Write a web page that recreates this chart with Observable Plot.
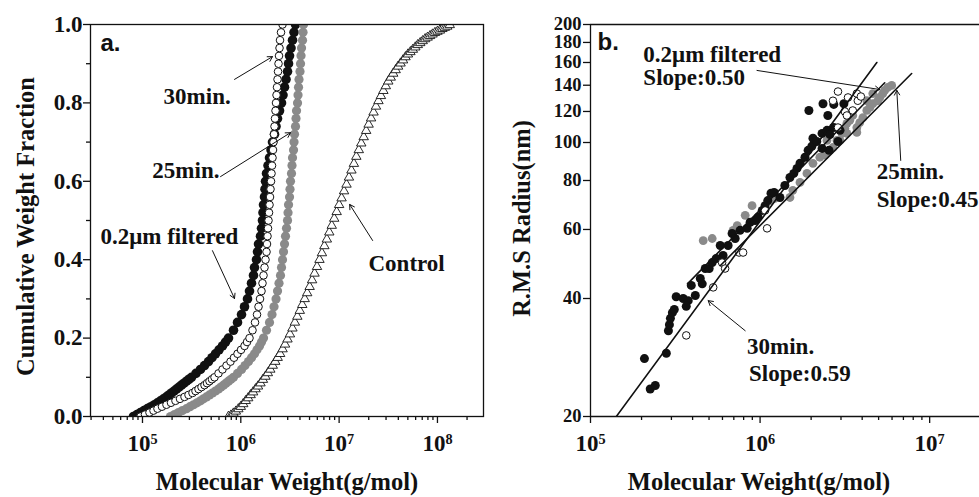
<!DOCTYPE html>
<html><head><meta charset="utf-8">
<script src="https://cdn.jsdelivr.net/npm/d3@7"></script>
<script src="https://cdn.jsdelivr.net/npm/@observablehq/plot@0.6"></script>
<style>
html,body{margin:0;padding:0;background:#fff;overflow:hidden;}
#wrap{position:relative;width:979px;height:497px;overflow:hidden;background:#fff;}
#left{position:absolute;left:0;top:0;width:485px;height:497px;}
#right{position:absolute;left:485px;top:0;width:512px;height:497px;}
#wrap svg{max-width:none !important;display:block;}
</style></head><body>
<div id="wrap"><div id="left"></div><div id="right"></div></div>
<script>
// ---------- Panel a: cumulative weight fraction ----------
const cumFrac = [0,0.005,0.01,0.015,0.02,0.025,0.03,0.035,0.04,0.045,0.05,0.055,0.06,0.065,0.07,0.075,0.08,0.085,0.09,0.095,0.10,
  0.11,0.12,0.13,0.14,0.15,0.16,0.17,0.18,0.19,0.20,
  0.22,0.24,0.26,0.28,0.30,0.32,0.34,0.36,0.38,0.40,
  0.42,0.44,0.46,0.48,0.50,0.52,0.54,0.56,0.58,0.60,
  0.62,0.64,0.66,0.68,0.70,0.72,0.74,0.76,0.78,0.80,
  0.82,0.84,0.86,0.88,0.90,0.92,0.94,0.96,0.98,1.00];

const filteredMW = [8.10e4,8.79e4,9.54e4,1.036e5,1.124e5,1.220e5,1.325e5,1.421e5,1.525e5,1.636e5,1.754e5,1.860e5,1.972e5,2.092e5,2.218e5,2.352e5,2.493e5,2.644e5,2.804e5,2.972e5,3.152e5,
  3.502e5,3.890e5,4.272e5,4.692e5,5.093e5,5.527e5,6.001e5,6.513e5,6.990e5,7.497e5,
  8.428e5,9.257e5,1.017e6,1.091e6,1.170e6,1.226e6,1.285e6,1.346e6,1.378e6,1.444e6,
  1.479e6,1.514e6,1.586e6,1.624e6,1.662e6,1.682e6,1.702e6,1.742e6,1.763e6,1.784e6,
  1.826e6,1.891e6,1.959e6,2.029e6,2.101e6,2.202e6,2.281e6,2.363e6,2.476e6,2.594e6,
  2.687e6,2.783e6,2.883e6,2.987e6,3.058e6,3.129e6,3.241e6,3.357e6,3.477e6,3.602e6];

const min30MW = [9.54e4,1.060e5,1.178e5,1.294e5,1.421e5,1.579e5,1.754e5,1.950e5,2.166e5,2.407e5,2.676e5,2.938e5,3.226e5,3.461e5,3.713e5,3.983e5,4.272e5,4.531e5,4.803e5,5.093e5,5.401e5,
  5.933e5,6.513e5,7.153e5,7.856e5,8.527e5,9.257e5,1.005e6,1.091e6,1.157e6,1.226e6,
  1.315e6,1.395e6,1.462e6,1.514e6,1.568e6,1.624e6,1.662e6,1.702e6,1.742e6,1.784e6,
  1.826e6,1.847e6,1.869e6,1.891e6,1.913e6,1.936e6,1.959e6,1.982e6,2.005e6,2.029e6,
  2.053e6,2.077e6,2.101e6,2.126e6,2.151e6,2.177e6,2.202e6,2.228e6,2.254e6,2.281e6,
  2.308e6,2.335e6,2.363e6,2.391e6,2.419e6,2.447e6,2.476e6,2.505e6,2.564e6,2.656e6];

const min25MW = [1.927e5,2.116e5,2.324e5,2.553e5,2.804e5,3.042e5,3.302e5,3.585e5,3.890e5,4.174e5,4.478e5,4.803e5,5.153e5,5.527e5,5.933e5,6.288e5,6.668e5,7.070e5,7.497e5,7.948e5,8.428e5,
  9.257e5,1.017e6,1.103e6,1.198e6,1.285e6,1.378e6,1.462e6,1.550e6,1.624e6,1.702e6,
  1.826e6,1.959e6,2.077e6,2.177e6,2.281e6,2.363e6,2.447e6,2.534e6,2.594e6,2.656e6,
  2.719e6,2.783e6,2.849e6,2.916e6,2.987e6,3.022e6,3.058e6,3.129e6,3.166e6,3.203e6,
  3.279e6,3.318e6,3.357e6,3.437e6,3.477e6,3.518e6,3.602e6,3.644e6,3.687e6,3.774e6,
  3.819e6,3.864e6,3.909e6,4.002e6,4.049e6,4.097e6,4.145e6,4.244e6,4.294e6,4.344e6];

const controlMW = [7.499e5,7.943e5,8.414e5,8.913e5,9.441e5,1.000e6,1.059e6,1.122e6,1.189e6,1.259e6,
  1.334e6,1.413e6,1.496e6,1.585e6,1.679e6,1.778e6,1.884e6,1.995e6,2.113e6,2.239e6,
  2.371e6,2.512e6,2.661e6,2.818e6,2.985e6,3.162e6,3.350e6,3.548e6,3.758e6,3.981e6,
  4.217e6,4.467e6,4.732e6,5.012e6,5.309e6,5.623e6,5.957e6,6.310e6,6.683e6,7.079e6,
  7.499e6,7.943e6,8.414e6,8.913e6,9.441e6,1.000e7,1.059e7,1.122e7,1.189e7,1.259e7,
  1.334e7,1.413e7,1.496e7,1.585e7,1.679e7,1.778e7,1.884e7,1.995e7,2.113e7,2.239e7,
  2.371e7,2.512e7,2.661e7,2.818e7,2.985e7,3.162e7,3.350e7,3.548e7,3.758e7,3.981e7,
  4.217e7,4.467e7,4.732e7,5.012e7,5.309e7,5.623e7,5.957e7,6.310e7,6.683e7,7.079e7,
  7.499e7,7.943e7,8.414e7,8.913e7,9.441e7,1.000e8,1.059e8,1.122e8,1.189e8,1.259e8,1.334e8];
const controlFrac = [0.000,0.003,0.008,0.013,0.019,0.025,0.032,0.040,0.047,0.055,
  0.062,0.070,0.077,0.085,0.094,0.102,0.111,0.120,0.130,0.140,
  0.150,0.160,0.172,0.184,0.197,0.210,0.225,0.240,0.255,0.270,
  0.285,0.300,0.315,0.331,0.348,0.365,0.382,0.400,0.417,0.435,
  0.452,0.470,0.487,0.505,0.522,0.540,0.557,0.575,0.592,0.610,
  0.628,0.645,0.663,0.680,0.697,0.713,0.729,0.745,0.761,0.776,
  0.791,0.805,0.818,0.831,0.843,0.855,0.865,0.875,0.884,0.893,
  0.901,0.909,0.917,0.924,0.930,0.936,0.942,0.948,0.953,0.958,
  0.963,0.967,0.971,0.975,0.979,0.982,0.985,0.989,0.992,0.995,0.999];

const fracMajorTicks = [0, 0.2, 0.4, 0.6, 0.8, 1.0];
const fracMinorTicks = [0.1, 0.3, 0.5, 0.7, 0.9];
const mwMajorTicksA = [1e5, 1e6, 1e7, 1e8];
const mwMinorTicksA = [3e4,4e4,5e4,6e4,7e4,8e4,9e4,2e5,3e5,4e5,5e5,6e5,7e5,8e5,9e5,2e6,3e6,4e6,5e6,6e6,7e6,8e6,9e6,2e7,3e7,4e7,5e7,6e7,7e7,8e7,9e7,2e8];

const labelsA = ["30min.", "25min.", "0.2\u03bcm filtered", "Control"];
const labelsAMW = [1.64e5, 1.26e5, 3.74e4, 1.99e7];
const labelsAFrac = [0.816, 0.628, 0.459, 0.390];
const arrowsAFromMW = [8.63e5, 6.22e5, 5.15e5, 2.19e7];
const arrowsAFromFrac = [0.860, 0.612, 0.423, 0.449];
const arrowsAToMW = [2.10e6, 3.20e6, 8.63e5, 1.28e7];
const arrowsAToFrac = [0.918, 0.724, 0.301, 0.541];

// ---------- Panel b: RMS radius vs MW ----------
const filteredRmsMW = [2.08e5,2.25e5,2.41e5,2.80e5,2.88e5,2.92e5,2.96e5,3.04e5,3.12e5,3.20e5,3.52e5,3.77e5,3.67e5,4.15e5,3.93e5,4.44e5,4.56e5,4.75e5,5.01e5,6.05e5,
  5.22e5,5.51e5,5.82e5,6.48e5,6.84e5,7.13e5,7.62e5,8.39e5,8.74e5,9.35e5,9.73e5,1.03e6,1.07e6,1.11e6,1.16e6,1.21e6,1.31e6,1.40e6,1.50e6,1.58e6,
  1.65e6,1.72e6,1.84e6,1.92e6,2.02e6,2.05e6,2.16e6,2.32e6,2.48e6,2.58e6,2.72e6,2.96e6,2.88e6,2.51e6,2.72e6,1.94e6,2.35e6,3.12e6,2.55e6,2.32e6];
const filteredRmsR = [28.1,23.5,24.0,29.0,33.1,34.3,35.6,36.8,37.5,40.4,40.0,39.5,38.2,40.7,43.2,45.0,43.6,47.7,47.7,51.5,
  49.4,50.6,54.6,54.6,58.6,56.9,59.7,60.4,62.6,63.2,64.5,67.1,69.0,71.1,74.2,74.6,72.4,77.7,81.4,83.4,
  85.9,88.5,91.7,95.5,97.8,102.5,100.6,105.5,107.4,104.8,109.2,107.4,100.6,117.2,125.1,120.7,125.6,125.6,95.5,96.6];

const min30RmsMW = [3.67e5,5.29e5,5.97e5,6.22e5,7.52e5,7.94e5,1.07e6,1.10e6,2.88e6,3.16e6,3.25e6,2.88e6,2.69e6,3.30e6,3.77e6,3.72e6,3.93e6,3.52e6];
const min30RmsR = [32.2,42.7,49.4,47.7,52.4,52.4,67.1,60.4,109.2,120.0,117.2,134.9,127.8,130.3,127.8,133.3,131.0,120.7];

const min25RmsMW = [4.62e5,5.22e5,6.93e5,7.33e5,8.17e5,8.97e5,1.15e6,1.22e6,1.50e6,1.56e6,1.72e6,1.89e6,2.05e6,2.25e6,2.41e6,2.48e6,2.58e6,2.69e6,2.84e6,2.96e6,
  3.04e6,3.16e6,3.25e6,3.25e6,3.38e6,3.52e6,3.72e6,3.72e6,3.87e6,4.04e6,4.26e6,4.26e6,4.44e6,4.62e6,4.62e6,4.94e6,5.08e6,5.29e6,5.43e6,5.66e6,5.97e6];
const min25RmsR = [56.2,56.9,59.7,61.4,65.2,69.0,71.1,72.0,72.4,75.5,79.1,83.4,88.5,91.7,92.8,101.2,95.5,97.1,101.2,101.2,
  105.5,108.7,111.9,105.5,113.9,117.2,106.1,109.2,112.4,115.8,120.7,127.8,122.9,125.6,133.3,127.8,130.3,133.3,135.8,138.2,139.8];

const fit30MW = [1.42e5, 4.88e6];          const fit30R = [20, 160];
const fitFilteredMW = [3.73e5, 5.43e6];    const fitFilteredR = [43.6, 142];
const fit25MW = [5.82e5, 7.83e6];          const fit25R = [48.5, 150];

const radiusTicks = [20, 40, 60, 80, 100, 120, 140, 160, 180, 200];
const mwMajorTicksB = [1e5, 1e6, 1e7];
const mwMinorTicksB = [2e5,3e5,4e5,5e5,6e5,7e5,8e5,9e5,2e6,3e6,4e6,5e6,6e6,7e6,8e6,9e6,2e7];

const labelsB = ["0.2\u03bcm filtered", "Slope:0.50", "25min.", "Slope:0.45", "30min.", "Slope:0.59"];
const labelsBMW = [2.05e5, 2.05e5, 4.88e6, 4.88e6, 8.38e5, 8.61e5];
const labelsBR = [167.7, 146.5, 84.3, 71.6, 30.2, 25.7];
const arrowsBFromMW = [9.59e5, 6.75e6, 8.17e5];
const arrowsBFromR = [152.7, 90.0, 33.1];
const arrowsBToMW = [5.08e6, 6.40e6, 4.94e5];
const arrowsBToR = [136.5, 135.8, 39.5];

// ---------- drawing ----------
const serif = "'Liberation Serif','Times New Roman',Times,serif";
const sans = "'Liberation Sans',Arial,Helvetica,sans-serif";
const ink = "#111";
const zip = (xs, ys) => xs.map((x, i) => ({x, y: ys[i]}));
const zipArrow = (x1, y1, x2, y2) => x1.map((_, i) => ({x1: x1[i], y1: y1[i], x2: x2[i], y2: y2[i]}));
const zipText = (t, xs, ys) => t.map((s, i) => ({t: s, x: xs[i], y: ys[i]}));
const powFmt = d => "10^" + Math.round(Math.log10(d));
const txt = {fontFamily: serif, fontWeight: "bold", fill: ink};

const left = Plot.plot({
  width: 485, height: 497,
  marginLeft: 90, marginRight: 2, marginTop: 24, marginBottom: 81,
  style: {fontFamily: serif, background: "white", overflow: "visible"},
  x: {type: "log", domain: [2.96e4, 2.94e8]},
  y: {domain: [0, 1]},
  marks: [
    Plot.axisY({ticks: fracMajorTicks, tickSize: 7, tickPadding: 1, tickFormat: d3.format(".1f"), label: null, fontSize: 23, ...txt, strokeWidth: 1.3, stroke: ink}),
    Plot.axisY({ticks: fracMinorTicks, tickSize: 4, tickFormat: () => "", label: null, strokeWidth: 1.3, stroke: ink}),
    Plot.axisX({ticks: mwMajorTicksA, tickSize: 7, tickPadding: 11, tickFormat: powFmt, label: null, fontSize: 23, ...txt, strokeWidth: 1.3, stroke: ink}),
    Plot.axisX({ticks: mwMinorTicksA, tickSize: 4, tickFormat: () => "", label: null, strokeWidth: 1.3, stroke: ink}),
    Plot.dot(zip(controlMW, controlFrac), {x: "x", y: "y", symbol: "triangle", r: 3.5, fill: "white", stroke: ink, strokeWidth: 0.9, clip: true}),
    Plot.dot(zip(filteredMW, cumFrac), {x: "x", y: "y", r: 4.8, fill: ink, clip: true}),
    Plot.dot(zip(min25MW, cumFrac), {x: "x", y: "y", r: 4.6, fill: "#8a8a8a", clip: true}),
    Plot.dot(zip(min30MW, cumFrac), {x: "x", y: "y", r: 3.8, fill: "white", stroke: ink, strokeWidth: 1, clip: true}),
    Plot.frame({stroke: ink, strokeWidth: 1.3}),
    Plot.arrow(zipArrow(arrowsAFromMW, arrowsAFromFrac, arrowsAToMW, arrowsAToFrac), {x1: "x1", y1: "y1", x2: "x2", y2: "y2", stroke: ink, strokeWidth: 1, headLength: 8}),
    Plot.text(zipText(labelsA, labelsAMW, labelsAFrac), {x: "x", y: "y", text: "t", textAnchor: "start", lineAnchor: "middle", fontSize: 23, ...txt}),
    Plot.text(["a."], {x: [3.74e4], y: [0.953], text: d => d, textAnchor: "start", lineAnchor: "middle", fontSize: 24, fontFamily: sans, fontWeight: "bold", fill: ink}),
    Plot.text(["Molecular Weight(g/mol)"], {frameAnchor: "bottom", textAnchor: "middle", lineAnchor: "middle", dy: 66, fontSize: 24.5, ...txt}),
    Plot.text(["Cumulative Weight Fraction"], {frameAnchor: "left", textAnchor: "middle", lineAnchor: "middle", rotate: -90, dx: -64, dy: 6, fontSize: 24.5, ...txt})
  ]
});

const right = Plot.plot({
  width: 512, height: 497,
  marginLeft: 105, marginRight: 0, marginTop: 24, marginBottom: 81,
  style: {fontFamily: serif, background: "white", overflow: "visible"},
  x: {type: "log", domain: [1e5, 2.512e7]},
  y: {type: "log", domain: [20, 200]},
  marks: [
    Plot.axisY({ticks: radiusTicks, tickSize: 7, tickPadding: 2, tickFormat: d => String(d), label: null, fontSize: 18.5, ...txt, strokeWidth: 1.3, stroke: ink}),
    Plot.axisX({ticks: mwMajorTicksB, tickSize: 7, tickPadding: 11, tickFormat: powFmt, label: null, fontSize: 23, ...txt, strokeWidth: 1.3, stroke: ink}),
    Plot.axisX({ticks: mwMinorTicksB, tickSize: 4, tickFormat: () => "", label: null, strokeWidth: 1.3, stroke: ink}),
    Plot.ruleY([radiusTicks[0], radiusTicks[radiusTicks.length - 1]], {stroke: ink, strokeWidth: 1.3}),
    Plot.ruleX([mwMajorTicksB[0]], {stroke: ink, strokeWidth: 1.3}),
    Plot.dot(zip(min25RmsMW, min25RmsR), {x: "x", y: "y", r: 4.4, fill: "#8a8a8a"}),
    Plot.dot(zip(filteredRmsMW, filteredRmsR), {x: "x", y: "y", r: 4.5, fill: ink}),
    Plot.dot(zip(min30RmsMW, min30RmsR), {x: "x", y: "y", r: 3.8, fill: "white", stroke: ink, strokeWidth: 1}),
    Plot.line(zip(fit30MW, fit30R), {x: "x", y: "y", stroke: ink, strokeWidth: 1.6, clip: true}),
    Plot.line(zip(fitFilteredMW, fitFilteredR), {x: "x", y: "y", stroke: ink, strokeWidth: 1.6, clip: true}),
    Plot.line(zip(fit25MW, fit25R), {x: "x", y: "y", stroke: ink, strokeWidth: 1.6, clip: true}),
    Plot.arrow(zipArrow(arrowsBFromMW, arrowsBFromR, arrowsBToMW, arrowsBToR), {x1: "x1", y1: "y1", x2: "x2", y2: "y2", stroke: ink, strokeWidth: 1, headLength: 8}),
    Plot.text(zipText(labelsB, labelsBMW, labelsBR), {x: "x", y: "y", text: "t", textAnchor: "start", lineAnchor: "middle", fontSize: 23, ...txt}),
    Plot.text(["b."], {x: [1.10e5], y: [180], text: d => d, textAnchor: "start", lineAnchor: "middle", fontSize: 24, fontFamily: sans, fontWeight: "bold", fill: ink}),
    Plot.text(["Molecular Weight(g/mol)"], {frameAnchor: "bottom", textAnchor: "middle", lineAnchor: "middle", dy: 66, dx: -35, fontSize: 24.5, ...txt}),
    Plot.text(["R.M.S Radius(nm)"], {frameAnchor: "left", textAnchor: "middle", lineAnchor: "middle", rotate: -90, dx: -68, dy: -2, fontSize: 24.5, ...txt})
  ]
});

function superscriptTicks(svg) {
  svg.querySelectorAll("text").forEach(t => {
    const m = /^10\^(\d+)$/.exec(t.textContent);
    if (!m) return;
    t.textContent = "10";
    const ts = document.createElementNS("http://www.w3.org/2000/svg", "tspan");
    ts.setAttribute("dy", "-0.48em");
    ts.setAttribute("font-size", "0.62em");
    ts.textContent = m[1];
    t.appendChild(ts);
  });
}
superscriptTicks(left);
superscriptTicks(right);
document.getElementById("left").appendChild(left);
document.getElementById("right").appendChild(right);
</script>
</body></html>
